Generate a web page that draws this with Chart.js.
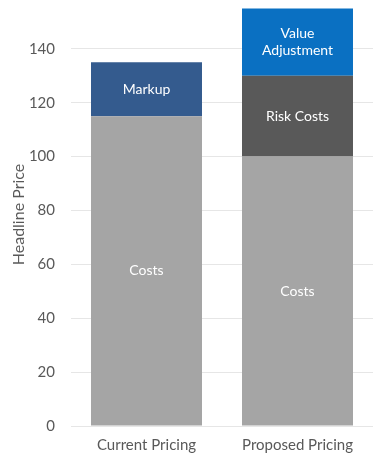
<!DOCTYPE html>
<html>
<head>
<meta charset="utf-8">
<script src="https://cdn.jsdelivr.net/npm/chart.js@4/dist/chart.umd.min.js"></script>
<style>
  html, body { margin: 0; padding: 0; background: #fff; }
  #wrap { width: 373px; height: 458px; }
</style>
</head>
<body>
<div id="wrap"><canvas id="chart"></canvas></div>
<script>
// Chart data
const categories = ["Current Pricing", "Proposed Pricing"];
const costs = [115, 100];
const markup = [20, null];
const riskCosts = [null, 30];
const valueAdjustment = [null, 25];
const yTicks = [0, 20, 40, 60, 80, 100, 120, 140];

const font = "Lato, 'Open Sans', sans-serif";

// Draws the segment name in the middle of each bar piece
const segmentLabels = {
    id: 'segmentLabels',
    afterDatasetsDraw(chart) {
        const ctx = chart.ctx;
        ctx.save();
        ctx.fillStyle = '#ffffff';
        ctx.font = '14px ' + font;
        ctx.textAlign = 'center';
        ctx.textBaseline = 'middle';
        chart.data.datasets.forEach((ds, i) => {
            const meta = chart.getDatasetMeta(i);
            meta.data.forEach((bar, j) => {
                if (ds.data[j] == null) return;
                const lines = ds.labelLines || [ds.label];
                const mid = (bar.y + bar.base) / 2;
                const lh = 17;
                lines.forEach((line, k) => {
                    ctx.fillText(line, bar.x, mid + (k - (lines.length - 1) / 2) * lh);
                });
            });
        });
        ctx.restore();
    }
};

new Chart(document.getElementById('chart'), {
    type: 'bar',
    data: {
        labels: categories,
        datasets: [
            { label: 'Costs', data: costs, backgroundColor: '#a5a5a5' },
            { label: 'Markup', data: markup, backgroundColor: '#345b8e' },
            { label: 'Risk Costs', data: riskCosts, backgroundColor: '#595959' },
            { label: 'Value Adjustment', labelLines: ['Value', 'Adjustment'], data: valueAdjustment, backgroundColor: '#0a70c2' }
        ]
    },
    options: {
        responsive: true,
        maintainAspectRatio: false,
        animation: false,
        barPercentage: 0.735,
        categoryPercentage: 1,
        layout: { padding: { top: 3, right: 0, left: 0, bottom: 0 } },
        plugins: {
            legend: { display: false },
            tooltip: { enabled: false }
        },
        scales: {
            x: {
                stacked: true,
                afterFit(scale) {
                    scale.height = 32;
                },
                grid: { display: false, drawTicks: false },
                border: { display: false },
                ticks: { color: '#595959', font: { family: font, size: 15 }, padding: 10 }
            },
            y: {
                stacked: true,
                min: 0,
                max: 157,
                afterBuildTicks(scale) {
                    scale.ticks = yTicks.map(v => ({ value: v }));
                },
                afterFit(scale) {
                    scale.paddingTop = 0;
                    scale.paddingBottom = 0;
                    scale.width = 71;
                },
                grid: { color: '#e6e6e6', drawTicks: false },
                border: { display: false },
                ticks: { color: '#595959', font: { family: font, size: 15 }, padding: 16 },
                title: {
                    display: true,
                    text: 'Headline Price',
                    color: '#595959',
                    font: { family: font, size: 16 },
                    padding: { top: 9, bottom: 0 }
                }
            }
        }
    },
    plugins: [segmentLabels]
});
</script>
</body>
</html>
